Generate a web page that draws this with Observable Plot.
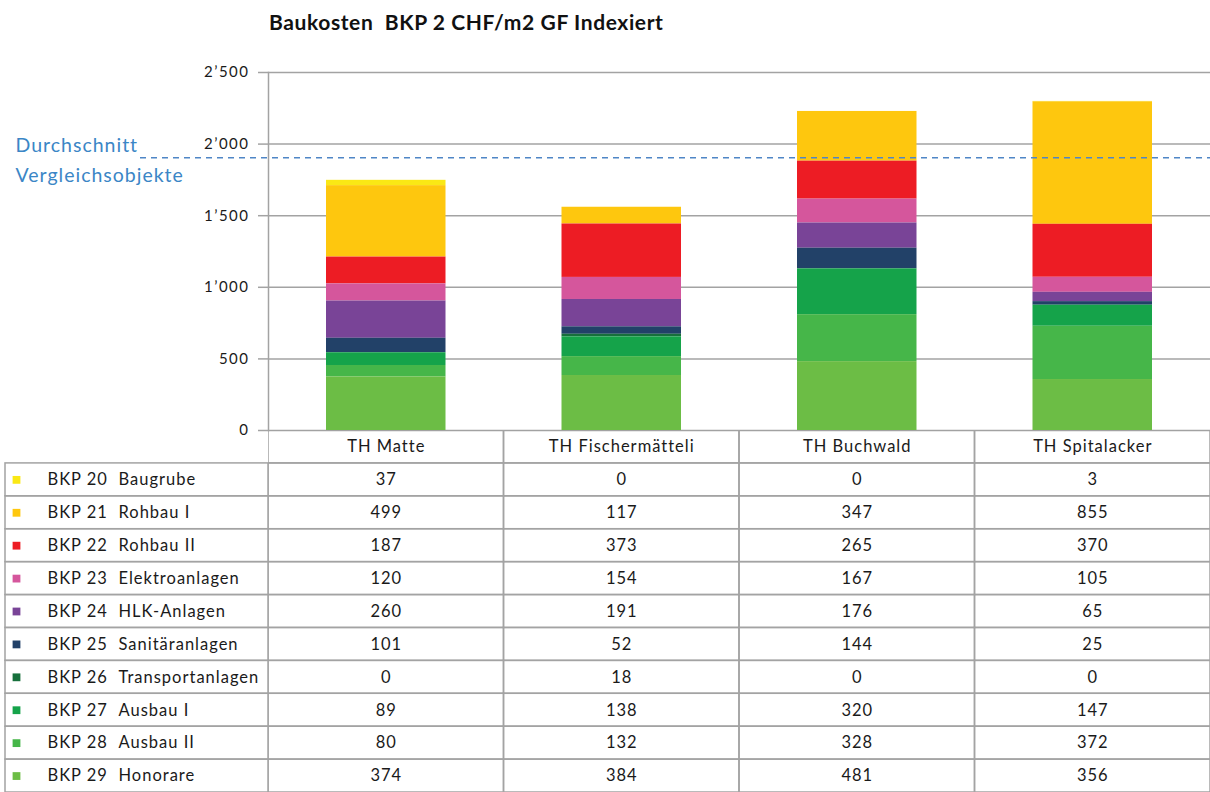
<!DOCTYPE html>
<html><head><meta charset="utf-8">
<script src="https://cdn.jsdelivr.net/npm/d3@7"></script>
<script src="https://cdn.jsdelivr.net/npm/@observablehq/plot@0.6"></script>
<style>
body{margin:0;background:#fff;font-family:Lato,sans-serif;}
#wrap{position:relative;width:1210px;height:792px;overflow:hidden;background:#fff;}
#title{position:absolute;left:269px;top:9px;font-weight:bold;font-size:21px;line-height:26px;letter-spacing:0.6px;font-family:Lato,sans-serif;white-space:pre;color:#111;}
</style></head><body><div id="wrap"><div id="title"></div></div>
<script>
const title = "Baukosten  BKP 2 CHF/m2 GF Indexiert";
const objects = ["TH Matte", "TH Fischermätteli", "TH Buchwald", "TH Spitalacker"];
const codes = ["BKP 20", "BKP 21", "BKP 22", "BKP 23", "BKP 24", "BKP 25", "BKP 26", "BKP 27", "BKP 28", "BKP 29"];
const names = ["Baugrube", "Rohbau I", "Rohbau II", "Elektroanlagen", "HLK-Anlagen", "Sanitäranlagen", "Transportanlagen", "Ausbau I", "Ausbau II", "Honorare"];
const colors = ["#FAE815", "#FEC70E", "#ED1C24", "#D5569C", "#794497", "#224168", "#17703C", "#15A34A", "#46B649", "#6CBD45"];
const matte = [37, 499, 187, 120, 260, 101, 0, 89, 80, 374];
const fischermaetteli = [0, 117, 373, 154, 191, 52, 18, 138, 132, 384];
const buchwald = [0, 347, 265, 167, 176, 144, 0, 320, 328, 481];
const spitalacker = [3, 855, 370, 105, 65, 25, 0, 147, 372, 356];
const average = 1905;
const averageLabel = ["Durchschnitt", "Vergleichsobjekte"];
const yTicks = [0, 500, 1000, 1500, 2000, 2500];
const yTickLabels = ["0", "500", "1’000", "1’500", "2’000", "2’500"];

document.getElementById("title").textContent = title;

const keys = codes.map((c, i) => c + " " + names[i]);
const seriesByObject = [matte, fischermaetteli, buchwald, spitalacker];
const rows = [];
objects.forEach((o, j) => keys.forEach((k, i) => rows.push({object: o, key: k, value: seriesByObject[j][i]})));
const stackOrder = keys.slice().reverse();
const grid = "#a3a3a3";
const textColor = "#1a1a1a";
const wrap = document.getElementById("wrap");

// ---- chart ----
const chart = Plot.plot({
  width: 1210, height: 440,
  marginLeft: 268, marginRight: 0, marginTop: 72, marginBottom: 10,
  style: {background: "transparent", fontFamily: "Lato, sans-serif", fontSize: "15px", color: textColor, overflow: "visible"},
  x: {domain: objects, padding: 0, round: false, axis: null},
  y: {domain: [0, 2500], axis: null},
  color: {domain: keys, range: colors},
  marks: [
    Plot.ruleY(yTicks, {stroke: grid, strokeWidth: 1.5}),
    Plot.axisY({ticks: yTicks, tickSize: 10, tickPadding: 9, stroke: grid, strokeWidth: 1.5, fill: textColor, fontSize: 15,
      tickFormat: d => yTickLabels[yTicks.indexOf(d)], label: null}),
    Plot.barY(rows, {x: "object", y: "value", fill: "key", order: stackOrder, insetLeft: 58, insetRight: 58}),
    Plot.frame({anchor: "left", stroke: grid, strokeWidth: 1.5}),
    Plot.ruleY([average], {stroke: "#4F86C6", strokeWidth: 1.5, strokeDasharray: "6,5", insetLeft: -128}),
    Plot.text([average], {y: d => d, text: () => averageLabel.join("\n"), frameAnchor: "left", dx: -253,
      textAnchor: "start", lineHeight: 1.55, fontSize: 19.5, fill: "#3B86C6"})
  ]
});
chart.style.position = "absolute"; chart.style.left = "0px"; chart.style.top = "0px";
chart.querySelectorAll("text").forEach(t => {
  if (yTickLabels.includes(t.textContent)) t.style.letterSpacing = "1.5px";
  if (t.textContent.includes(averageLabel[0])) t.style.letterSpacing = "1px";
});
wrap.appendChild(chart);

// ---- data table ----
const rowDomain = ["header", ...keys];
const cells = [];
objects.forEach((o, j) => {
  cells.push({object: o, row: "header", label: o});
  keys.forEach((k, i) => cells.push({object: o, row: k, label: String(seriesByObject[j][i])}));
});

const tableStyle = {background: "transparent", fontFamily: "Lato, sans-serif", fontSize: "16.5px", letterSpacing: "1px", color: textColor};

const tableRight = Plot.plot({
  width: 942, height: 362, margin: 0,
  style: tableStyle,
  x: {domain: objects, padding: 0, round: false, axis: null},
  y: {domain: rowDomain, padding: 0, round: false, axis: null},
  marks: [
    Plot.cell(cells, {x: "object", y: "row", fill: "none", stroke: grid, strokeWidth: 1.5}),
    Plot.text(cells, {x: "object", y: "row", text: "label", fontSize: 16.5, fill: textColor})
  ]
});
tableRight.style.position = "absolute"; tableRight.style.left = "268px"; tableRight.style.top = "430px";
wrap.appendChild(tableRight);

const tableLeft = Plot.plot({
  width: 269, height: 362, marginLeft: 5, marginRight: 1, marginTop: 0, marginBottom: 0,
  style: tableStyle,
  y: {domain: rowDomain, padding: 0, round: false, axis: null},
  color: {domain: keys, range: colors},
  marks: [
    Plot.cell(keys, {y: d => d, fill: "none", stroke: grid, strokeWidth: 1.5}),
    Plot.dot(keys, {y: d => d, fill: d => d, symbol: "square", r: 4.4, frameAnchor: "left", dx: 11}),
    Plot.text(keys, {y: d => d, text: (d, i) => codes[i], frameAnchor: "left", dx: 42, textAnchor: "start", fontSize: 16.5, fill: textColor}),
    Plot.text(keys, {y: d => d, text: (d, i) => names[i], frameAnchor: "left", dx: 113, textAnchor: "start", fontSize: 16.5, fill: textColor})
  ]
});
tableLeft.style.position = "absolute"; tableLeft.style.left = "0px"; tableLeft.style.top = "430px";
wrap.appendChild(tableLeft);
</script></body></html>
